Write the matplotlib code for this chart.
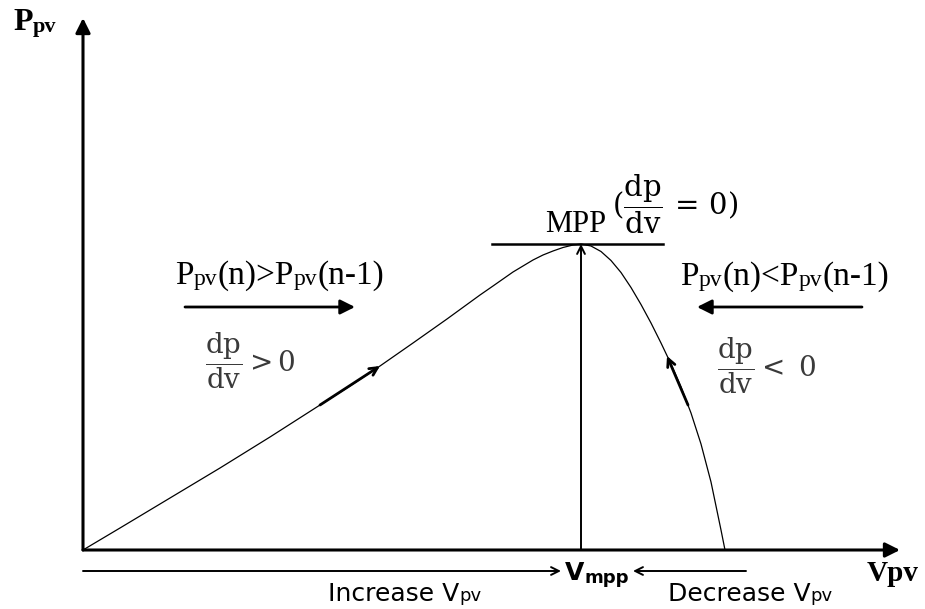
import matplotlib
matplotlib.use("Agg")
import matplotlib.pyplot as plt
from matplotlib import transforms

plt.rcParams["mathtext.fontset"] = "custom"
plt.rcParams["mathtext.rm"] = "DejaVu Serif"
plt.rcParams["mathtext.it"] = "DejaVu Serif:italic"
plt.rcParams["mathtext.bf"] = "DejaVu Serif:bold"

# ---------------- data (V, P in drawing units) ----------------
curve_v = [0, 37, 87, 137, 187, 237, 267, 297, 330, 364, 397, 410, 420, 430, 440,
           450, 460, 470, 480, 490, 498,
           508, 518, 528, 538, 548, 558, 568, 578, 588, 598, 608, 618, 628, 638, 642]
curve_p = [0, 22, 52, 82, 113, 145, 164, 184, 207, 231, 255, 264, 271, 278, 284,
           290, 295, 299, 302.5, 305, 306,
           304, 298.5, 289.5, 277.5, 262.5, 245.5, 227, 207, 186, 163, 137, 106, 68, 20, 0]

v_mpp = 498
p_mpp = 306
mpp_bar_v = [409, 580]

left_dir_v = [237, 297]     # direction mark on rising branch
left_dir_p = [145, 184]
right_dir_v = [605, 584]    # direction mark on falling branch
right_dir_p = [145, 194]

v_axis_end = 817
p_axis_end = 532

inc_arrow_v = [102, 272]    # Ppv(n)>Ppv(n-1) arrow
dec_arrow_v = [779, 614]    # Ppv(n)<Ppv(n-1) arrow
cmp_arrow_p = 243

inc_v_arrow = [0, 478]      # Increase Vpv arrow
dec_v_arrow = [663, 550]    # Decrease Vpv arrow
v_arrow_p = -21

# ---------------- figure ----------------
W, H, DPI = 925, 609, 100
fig = plt.figure(figsize=(W / DPI, H / DPI), dpi=DPI)
ax = fig.add_axes([0, 0, 1, 1])
ax.set_xlim(-83, W - 83)
ax.set_ylim(550 - H, 550)
ax.axis("off")


def arrow(x0, y0, x1, y1, style="-|>", lw=2.0, ms=20):
    ax.annotate("", xy=(x1, y1), xytext=(x0, y0),
                arrowprops=dict(arrowstyle=style, lw=lw, color="black",
                                mutation_scale=ms, shrinkA=0, shrinkB=0))


# axes
arrow(0, 0, v_axis_end, 0, lw=2.2, ms=22)
arrow(0, 0, 0, p_axis_end, lw=2.2, ms=22)

# P-V curve
ax.plot(curve_v, curve_p, color="black", lw=0.9, solid_joinstyle="round")

# MPP bar and Vmpp vertical
ax.plot(mpp_bar_v, [p_mpp, p_mpp], color="black", lw=1.8)
arrow(v_mpp, 0, v_mpp, p_mpp, style="->", lw=1.4, ms=14)

# direction marks on the curve
arrow(left_dir_v[0], left_dir_p[0], left_dir_v[1], left_dir_p[1], style="->", lw=2.0, ms=14)
arrow(right_dir_v[0], right_dir_p[0], right_dir_v[1], right_dir_p[1], style="->", lw=2.0, ms=14)

# comparison arrows
arrow(inc_arrow_v[0], cmp_arrow_p, inc_arrow_v[1], cmp_arrow_p, lw=2.0, ms=22)
arrow(dec_arrow_v[0], cmp_arrow_p, dec_arrow_v[1], cmp_arrow_p, lw=2.0, ms=22)

# bottom arrows
arrow(inc_v_arrow[0], v_arrow_p, inc_v_arrow[1], v_arrow_p, style="->", lw=1.4, ms=14)
arrow(dec_v_arrow[0], v_arrow_p, dec_v_arrow[1], v_arrow_p, style="->", lw=1.4, ms=14)

renderer = fig.canvas.get_renderer()


def rich(x, y, pieces):
    offx = 0.0
    for s, kw, dy in pieces:
        tr = transforms.offset_copy(ax.transData, fig=fig, x=offx, y=dy, units="dots")
        t = ax.text(x, y, s, transform=tr, ha="left", va="baseline", **kw)
        offx += t.get_window_extent(renderer=renderer).width


SER = dict(family="Liberation Serif", color="black")
SERB = dict(family="Liberation Serif", color="black", weight="bold")
SANS = dict(family="DejaVu Sans", color="black")
SANSB = dict(family="DejaVu Sans", color="black", weight="bold")

# axis labels
rich(-70, 520, [("P", dict(size=23, **SERB), 0), ("pv", dict(size=16, **SERB), -2)])
rich(784, -31, [("Vpv", dict(size=21, **SERB), 0)])


def cmp_text(x, y, sym):
    big, small = 24, 17
    rich(x, y, [("P", dict(size=big, **SER), 0), ("pv", dict(size=small, **SER), -1),
                ("(n)" + sym + "P", dict(size=big, **SER), 0), ("pv", dict(size=small, **SER), -1),
                ("(n-1)", dict(size=big, **SER), 0)])


cmp_text(92, 266, ">")
cmp_text(597, 265, "<")

# slope expressions
ax.text(122, 189, r"$\dfrac{\mathrm{dp}}{\mathrm{dv}} > 0$", size=20, color="#3a3a3a",
        ha="left", va="center")
ax.text(634, 184, r"$\dfrac{\mathrm{dp}}{\mathrm{dv}} <\ 0$", size=20, color="#3a3a3a",
        ha="left", va="center")

# MPP label
ax.text(462, 318, "MPP", size=22, ha="left", va="baseline", **SER)
ax.text(529, 346, r"$(\dfrac{\mathrm{dp}}{\mathrm{dv}}\,=\,0)$", size=21, color="black",
        ha="left", va="center")

# bottom labels
rich(482, -30, [("V", dict(size=18, **SANSB), 0), ("mpp", dict(size=13, **SANSB), -3)])
rich(245, -51, [("Increase V", dict(size=18, **SANS), 0), ("pv", dict(size=13, **SANS), 0)])
rich(585, -51, [("Decrease V", dict(size=18, **SANS), 0), ("pv", dict(size=13, **SANS), 0)])

fig.savefig("out.png", dpi=DPI, facecolor="white")
